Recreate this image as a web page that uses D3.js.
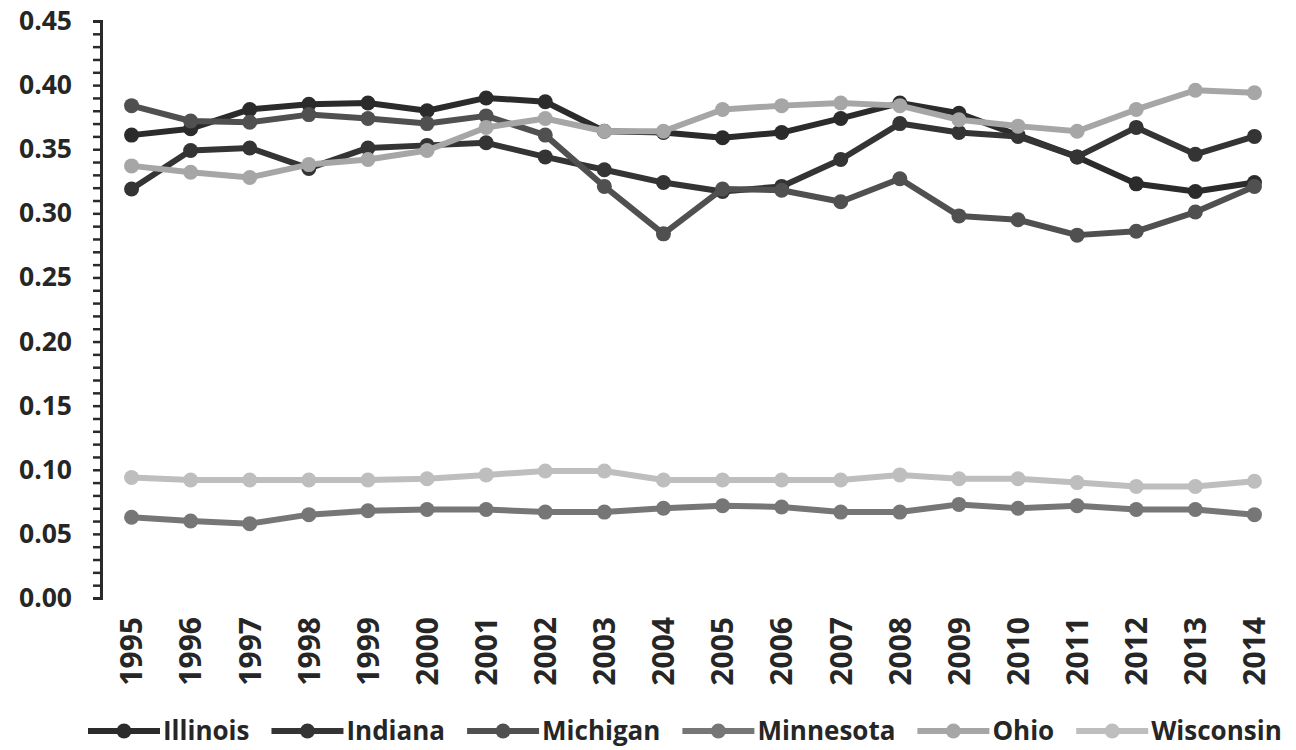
<!DOCTYPE html>
<html>
<head>
<meta charset="utf-8">
<script src="https://cdnjs.cloudflare.com/ajax/libs/d3/7.8.5/d3.min.js"></script>
<style>
    body { margin: 0; background: #fff; }
    text { font-family: "Open Sans", sans-serif; font-weight: 700; fill: #262626; }
</style>
</head>
<body>
<script>
const years = ["1995", "1996", "1997", "1998", "1999", "2000", "2001", "2002", "2003", "2004",
               "2005", "2006", "2007", "2008", "2009", "2010", "2011", "2012", "2013", "2014"];

const illinois  = [0.361, 0.366, 0.381, 0.385, 0.386, 0.380, 0.390, 0.387, 0.364, 0.363,
                   0.359, 0.363, 0.374, 0.386, 0.378, 0.361, 0.344, 0.323, 0.317, 0.324];
const indiana   = [0.319, 0.349, 0.351, 0.335, 0.351, 0.353, 0.355, 0.344, 0.334, 0.324,
                   0.317, 0.321, 0.342, 0.370, 0.363, 0.360, 0.344, 0.367, 0.346, 0.360];
const michigan  = [0.384, 0.372, 0.371, 0.377, 0.374, 0.370, 0.376, 0.361, 0.321, 0.284,
                   0.319, 0.318, 0.309, 0.327, 0.298, 0.295, 0.283, 0.286, 0.301, 0.321];
const minnesota = [0.063, 0.060, 0.058, 0.065, 0.068, 0.069, 0.069, 0.067, 0.067, 0.070,
                   0.072, 0.071, 0.067, 0.067, 0.073, 0.070, 0.072, 0.069, 0.069, 0.065];
const ohio      = [0.337, 0.332, 0.328, 0.338, 0.342, 0.349, 0.367, 0.374, 0.364, 0.364,
                   0.381, 0.384, 0.386, 0.384, 0.373, 0.368, 0.364, 0.381, 0.396, 0.394];
const wisconsin = [0.094, 0.092, 0.092, 0.092, 0.092, 0.093, 0.096, 0.099, 0.099, 0.092,
                   0.092, 0.092, 0.092, 0.096, 0.093, 0.093, 0.090, 0.087, 0.087, 0.091];

const seriesNames = ["Illinois", "Indiana", "Michigan", "Minnesota", "Ohio", "Wisconsin"];
const yLabels = [0, 0.05, 0.10, 0.15, 0.20, 0.25, 0.30, 0.35, 0.40, 0.45];

function go() {
    const width = 1296, height = 750;
    const colors = ["#2b2b2b", "#343434", "#505050", "#767676", "#a6a6a6", "#bebebe"];
    const values = [illinois, indiana, michigan, minnesota, ohio, wisconsin];

    const series = seriesNames.map(function(name, i) {
        return {name: name, color: colors[i], points: values[i].map(function(v, j) {
            return {year: years[j], value: v};
        })};
    });

    const x = d3.scaleBand().domain(years).range([102, 1284]);
    const y = d3.scaleLinear().domain([0, 0.45]).range([598, 21]);
    const cx = function(d) { return x(d.year) + x.bandwidth() / 2; };

    const svg = d3.select("body").append("svg")
        .attr("width", width)
        .attr("height", height);

    // minor ticks every 0.01
    const minor = svg.append("g")
        .attr("transform", "translate(101,0)")
        .call(d3.axisLeft(y).tickValues(d3.range(0, 0.4501, 0.01)).tickSize(8).tickFormat(""));
    minor.select(".domain").attr("stroke", "#2a2a2a").attr("stroke-width", 3);
    minor.selectAll(".tick line").attr("stroke", "#2a2a2a").attr("stroke-width", 2.5);

    const labels = svg.append("g")
        .attr("transform", "translate(101,0)")
        .call(d3.axisLeft(y).tickValues(yLabels).tickSize(0).tickPadding(29).tickFormat(d3.format(".2f")));
    labels.select(".domain").remove();
    labels.selectAll("text").attr("font-size", 26.5).attr("font-family", null).attr("fill", "#262626");

    // years, rotated
    const xAxis = svg.append("g")
        .attr("transform", "translate(0,598)")
        .call(d3.axisBottom(x).tickSize(0).tickPadding(0));
    xAxis.select(".domain").remove();
    xAxis.selectAll("text")
        .attr("font-size", 30)
        .attr("font-family", null)
        .attr("fill", "#262626")
        .attr("text-anchor", "end")
        .attr("dy", "0.36em")
        .attr("transform", "translate(0,19) rotate(-90)");

    const lineFunction = d3.line()
        .x(cx)
        .y(function(d) { return y(d.value); })
        .curve(d3.curveLinear);

    const groups = svg.append("g").selectAll(".series")
        .data(series)
        .enter().append("g")
        .attr("class", "series");

    groups.append("path")
        .attr("d", function(d) { return lineFunction(d.points); })
        .attr("fill", "none")
        .attr("stroke", function(d) { return d.color; })
        .attr("stroke-width", 6)
        .attr("stroke-linejoin", "round");

    groups.selectAll("circle")
        .data(function(d) { return d.points.map(function(p) { return {year: p.year, value: p.value, color: d.color}; }); })
        .enter().append("circle")
        .attr("cx", cx)
        .attr("cy", function(d) { return y(d.value); })
        .attr("r", 7.5)
        .attr("fill", function(d) { return d.color; });

    // legend along the bottom
    const legend = svg.append("g").attr("transform", "translate(0,731)");
    let pos = 88;
    series.forEach(function(s) {
        const item = legend.append("g").attr("transform", "translate(" + pos + ",0)");
        item.append("line")
            .attr("x1", 0).attr("x2", 72)
            .attr("stroke", s.color)
            .attr("stroke-width", 6);
        item.append("circle")
            .attr("cx", 36).attr("r", 7.5)
            .attr("fill", s.color);
        const t = item.append("text")
            .attr("x", 75)
            .attr("dy", "0.33em")
            .attr("font-size", 26)
            .text(s.name);
        pos += 75 + t.node().getComputedTextLength() + 22;
    });
}

window.onload = function() {
    go();
}
</script>
</body>
</html>
